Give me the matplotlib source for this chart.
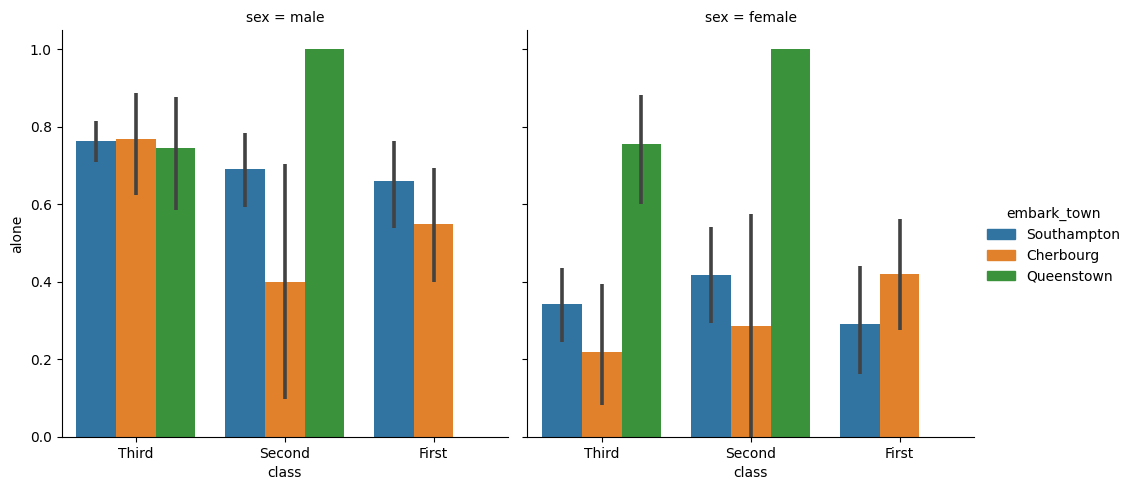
import numpy as np
import matplotlib
matplotlib.use("Agg")
import matplotlib.pyplot as plt
from matplotlib.patches import Patch

classes = ["Third", "Second", "First"]
towns = ["Southampton", "Cherbourg", "Queenstown"]
colors = ["#3274a1", "#e1812c", "#3a923a"]

# mean of "alone" per class / town, NaN where no bar
male_mean = [[0.763, 0.691, 0.660],
             [0.768, 0.400, 0.549],
             [0.745, 1.000, np.nan]]
male_lo = [[0.710, 0.594, 0.539],
           [0.625, 0.097, 0.400],
           [0.586, 1.000, np.nan]]
male_hi = [[0.814, 0.785, 0.763],
           [0.887, 0.703, 0.693],
           [0.876, 1.000, np.nan]]

female_mean = [[0.343, 0.418, 0.291],
               [0.219, 0.286, 0.420],
               [0.757, 1.000, np.nan]]
female_lo = [[0.246, 0.294, 0.163],
             [0.082, 0.000, 0.277],
             [0.600, 1.000, np.nan]]
female_hi = [[0.436, 0.541, 0.441],
             [0.394, 0.575, 0.562],
             [0.881, 1.000, np.nan]]

panels = [("male", male_mean, male_lo, male_hi),
          ("female", female_mean, female_lo, female_hi)]

fig = plt.figure(figsize=(11.32, 4.9), dpi=100)
ax1 = fig.add_axes([61.5 / 1132, 0.1082, 446.5 / 1132, 0.8306])
ax2 = fig.add_axes([527.3 / 1132, 0.1082, 446.7 / 1132, 0.8306], sharey=ax1)

x = np.arange(len(classes))
w = 0.8 / len(towns)
for ax, (sex, mean, lo, hi) in zip([ax1, ax2], panels):
    for i, town in enumerate(towns):
        xs = x - 0.4 + w * (i + 0.5)
        ax.bar(xs, mean[i], width=w, color=colors[i])
        ax.vlines(xs, lo[i], hi[i], color="#424242", linewidth=2.6)
    ax.set_xticks(x)
    ax.set_xticklabels(classes)
    ax.set_xlim(-0.5, 2.5)
    ax.set_xlabel("class")
    ax.set_title("sex = " + sex, fontsize=10)
    ax.spines["top"].set_visible(False)
    ax.spines["right"].set_visible(False)

ax1.set_ylim(0, 1.05)
ax1.set_ylabel("alone")
plt.setp(ax2.get_yticklabels(), visible=False)

handles = [Patch(color=c, label=t) for c, t in zip(colors, towns)]
fig.legend(handles=handles, title="embark_town", loc="center left",
           bbox_to_anchor=(0.861, 0.5), frameon=False)

fig.savefig("out.png")
